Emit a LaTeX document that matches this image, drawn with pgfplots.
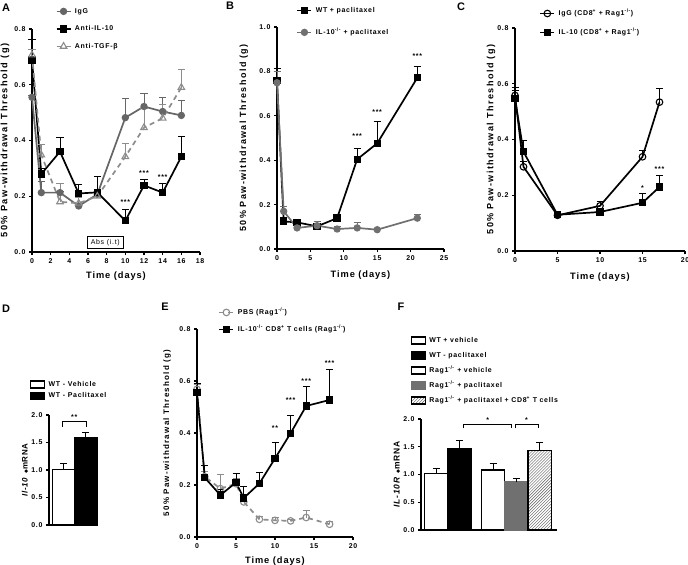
\documentclass[border=0pt]{standalone}
\usepackage{pgfplots}
\pgfplotsset{compat=1.18}
\usepackage{pgfplotstable}
\usepackage{fontspec}
\setmainfont{Liberation Sans}[LetterSpace=10]
\newfontfamily\ylabfont{Liberation Sans}[LetterSpace=16]
\newfontfamily\symfont{DejaVu Sans}
\usetikzlibrary{patterns}

\definecolor{gA}{HTML}{666666}
\definecolor{gB}{HTML}{8C8C8C}
\definecolor{gF}{HTML}{707070}

\newcommand{\tkf}{\bfseries\fontsize{7}{8}\selectfont}
\newcommand{\lgf}{\bfseries\fontsize{7}{8}\selectfont}
\newcommand{\lbf}{\bfseries\fontsize{9.3}{10}\selectfont}

\tikzset{st/.style={font=\tkf, anchor=center}}

\pgfplotsset{
 gp/.style={
  scale only axis, anchor=south west, clip=false,
  axis lines=left, axis line style={-, line width=1.2bp},
  tick align=outside, major tick length=3bp, tick style={line width=1.1bp, black},
  enlargelimits=false,
  ticklabel style={font=\tkf},
  label style={font=\lbf},
  /pgf/number format/assume math mode=true,
  yticklabel style={/pgf/number format/.cd, fixed, fixed zerofill, precision=1},
  legend style={draw=none, fill=none, font=\lgf, anchor=north west, inner sep=0pt,
     nodes={inner ysep=1bp, inner xsep=3.5bp, text height=5bp, text depth=1.5bp}},
  legend cell align=left,
  legend image code/.code={\draw[mark repeat=2,mark phase=2,##1] plot coordinates {(0bp,0bp) (7bp,0bp) (14bp,0bp)};},
  xlabel style={at={(axis description cs:0.5,-0.11)}, anchor=center},
 },
 barleg/.style={legend image code/.code={\draw[##1] (0bp,-3.5bp) rectangle (14bp,3.5bp);}},
 eb/.style={/pgfplots/error bars/y dir=plus, /pgfplots/error bars/y explicit, /pgfplots/error bars/error bar style={line width=1bp, solid}, /pgfplots/error bars/error mark options={rotate=90, mark size=3.5bp, line width=1bp, solid}},
 blk/.style={black, line width=1.7bp, mark=square*, mark size=2.8bp, mark options={solid, fill=black}},
 gcirc/.style={color=gA, line width=1.7bp, mark=*, mark size=2.8bp, mark options={solid, fill=gA}},
 tri/.style={color=gB, line width=1.7bp, dash pattern=on 5bp off 4bp, mark=triangle, mark size=3.8bp, mark options={solid, fill=white, line width=1.1bp}},
 ocirc/.style={black, line width=1.7bp, mark=o, mark size=3.3bp, mark options={solid, fill=white, line width=1.1bp}},
 pbs/.style={color=gB, line width=1.7bp, dash pattern=on 5bp off 4bp, mark=o, mark size=3.3bp, mark options={solid, fill=white, line width=1.1bp}},
}

% ---- data ----
\pgfplotstableread{
x y e
0 0.555 0.005
1 0.213 0.04
3 0.213 0.005
5 0.165 0.005
7 0.207 0.005
10 0.482 0.07
12 0.522 0.045
14 0.504 0.05
16 0.49 0.055
}\Aigg
\pgfplotstableread{
x y e
0 0.689 0.072
1 0.280 0.02
3 0.360 0.05
5 0.210 0.033
7 0.214 0.056
10 0.112 0.041
12 0.239 0.02
14 0.213 0.033
16 0.342 0.072
}\Ail
\pgfplotstableread{
x y e
0 0.707 0.02
1 0.348 0.036
3 0.180 0.066
5 0.175 0.02
7 0.200 0.02
10 0.342 0.048
12 0.446 0.07
14 0.480 0.05
16 0.590 0.065
}\Atgf
\pgfplotstableread{
x y e
0 0.760 0.053
1 0.124 0.02
3 0.120 0.005
6 0.102 0.01
9 0.139 0.015
12 0.404 0.05
15 0.476 0.097
21 0.771 0.049
}\Bwt
\pgfplotstableread{
x y e
0 0.749 0.05
1 0.170 0.02
3 0.095 0.005
6 0.105 0.019
9 0.090 0.01
12 0.095 0.025
15 0.087 0.005
21 0.139 0.018
}\Bil
\pgfplotstableread{
x y e
0 0.558 0.03
1 0.302 0.02
5 0.128 0.01
10 0.162 0.014
15 0.338 0.024
17 0.534 0.05
}\Cigg
\pgfplotstableread{
x y e
0 0.546 0.03
1 0.356 0.042
5 0.130 0.01
10 0.140 0.01
15 0.173 0.033
17 0.230 0.042
}\Cil
\pgfplotstableread{
x y e
0 0.568 0.02
1 0.232 0.02
3 0.186 0.054
5 0.205 0.02
6 0.135 0.01
8 0.068 0.01
10 0.064 0.01
12 0.062 0.005
14 0.075 0.028
17 0.049 0.01
}\Epbs
\pgfplotstableread{
x y e
0 0.556 0.036
1 0.228 0.046
3 0.161 0.02
5 0.210 0.034
6 0.150 0.043
8 0.206 0.042
10 0.302 0.062
12 0.399 0.07
14 0.504 0.075
17 0.527 0.119
}\Ecd

\begin{document}
\begin{tikzpicture}
\useasboundingbox (0bp,0bp) rectangle (688bp,-565bp);

% ===== A =====
\begin{axis}[gp, at={(32bp,-252bp)}, width=168bp, height=223bp,
  xmin=0, xmax=18, ymin=0, ymax=0.8, xtick={0,2,...,18}, ytick={0,0.2,...,0.8},
  xlabel={Time (days)}, ylabel={50\% Paw-withdrawal Threshold (g)},
  ylabel style={at={(axis description cs:-0.16,0.5)}, anchor=center, font=\ylabfont\bfseries\fontsize{9.3}{10}\selectfont},
  legend style={at={(0.14,1.099)}, row sep=9bp}]
\addplot[gcirc, eb] table[x=x, y=y, y error=e]{\Aigg};
\addlegendentry{IgG}
\addplot[blk, eb] table[x=x, y=y, y error=e]{\Ail};
\addlegendentry{Anti-IL-10}
\addplot[tri, eb] table[x=x, y=y, y error=e]{\Atgf};
\addlegendentry{Anti-TGF-β}
\node[st] at (axis cs:10,0.18) {***};
\node[st] at (axis cs:12,0.282) {***};
\node[st] at (axis cs:14,0.27) {***};
\draw[line width=0.6bp] (axis cs:5.9,0.013) rectangle (axis cs:9.8,0.057);
\node[font=\fontsize{7}{8}\selectfont] at (axis cs:7.85,0.035) {Abs (i.t)};
\end{axis}

% ===== B =====
\begin{axis}[gp, at={(277bp,-249bp)}, width=167bp, height=222bp,
  xmin=0, xmax=25, ymin=0, ymax=1.0, xtick={0,5,...,25}, ytick={0,0.2,...,1.0},
  xlabel={Time (days)}, ylabel={50\% Paw-withdrawal Threshold (g)},
  xlabel style={at={(axis description cs:0.5,-0.117)}},
  ylabel style={at={(axis description cs:-0.198,0.5)}, anchor=center, font=\ylabfont\bfseries\fontsize{9}{10}\selectfont},
  legend style={at={(0.116,1.095)}, row sep=13.5bp}]
\addplot[blk, eb] table[x=x, y=y, y error=e]{\Bwt};
\addlegendentry{WT + paclitaxel}
\addplot[gcirc, color=gB!80!black, mark options={solid, fill=gB!80!black}, eb] table[x=x, y=y, y error=e]{\Bil};
\addlegendentry{IL-10\textsuperscript{-/-} + paclitaxel}
\node[st] at (axis cs:12,0.509) {***};
\node[st] at (axis cs:15,0.617) {***};
\node[st] at (axis cs:21,0.867) {***};
\end{axis}

% ===== C =====
\begin{axis}[gp, at={(515bp,-251bp)}, width=170bp, height=223bp,
  xmin=0, xmax=20, ymin=0, ymax=0.8, xtick={0,5,...,20}, ytick={0,0.2,...,0.8},
  xlabel={Time (days)}, ylabel={50\% Paw-withdrawal Threshold (g)},
  xlabel style={at={(axis description cs:0.5,-0.117)}},
  ylabel style={at={(axis description cs:-0.141,0.5)}, anchor=center, font=\ylabfont\bfseries\fontsize{9.1}{10}\selectfont},
  legend style={at={(0.143,1.085)}, row sep=10.5bp}]
\addplot[ocirc, eb] table[x=x, y=y, y error=e]{\Cigg};
\addlegendentry{IgG (CD8\textsuperscript{+} + Rag1\textsuperscript{-/-})}
\addplot[blk, eb] table[x=x, y=y, y error=e]{\Cil};
\addlegendentry{IL-10 (CD8\textsuperscript{+} + Rag1\textsuperscript{-/-})}
\node[st] at (axis cs:15,0.224) {*};
\node[st] at (axis cs:17,0.293) {***};
\end{axis}

% ===== D =====
\begin{axis}[gp, at={(49bp,-525bp)}, width=48bp, height=110bp,
  xmin=-0.67, xmax=1.5, ymin=0, ymax=2.0, xtick=\empty, ytick={0,0.5,...,2.0},
  ybar, bar width=1, bar shift=0pt,
  ylabel={\textit{Il-10} {\symfont\fontsize{5}{5}\selectfont ◆}mRNA},
  ylabel style={at={(axis description cs:-0.5,0.5)}, anchor=center, font=\bfseries\fontsize{8}{9}\selectfont},
  legend style={at={(-0.4,1.318)}, row sep=3bp}]
\addplot[barleg, draw=black, line width=1.2bp, fill=white, eb] coordinates {(0,1.01) +- (0,0.11)};
\addlegendentry{WT - Vehicle}
\addplot[barleg, draw=black, line width=1.2bp, fill=black, eb] coordinates {(1,1.59) +- (0,0.09)};
\addlegendentry{WT - Paclitaxel}
\draw[line width=0.8bp] (axis cs:-0.05,1.79) -- (axis cs:-0.05,1.89) -- (axis cs:1.0,1.89) -- (axis cs:1.0,1.79);
\node[font=\tkf, anchor=south] at (axis cs:0.47,1.86) {**};
\end{axis}

% ===== E =====
\begin{axis}[gp, at={(197bp,-537bp)}, width=156bp, height=208bp,
  xmin=0, xmax=20, ymin=0, ymax=0.8, xtick={0,5,...,20}, ytick={0,0.2,...,0.8},
  xlabel={Time (days)}, ylabel={50\% Paw-withdrawal Threshold (g)},
  xlabel style={at={(axis description cs:0.5,-0.115)}},
  ylabel style={at={(axis description cs:-0.192,0.5)}, anchor=center, font=\ylabfont\bfseries\fontsize{8}{9}\selectfont},
  legend style={at={(0.137,1.101)}, row sep=8.5bp}]
\addplot[pbs, eb] table[x=x, y=y, y error=e]{\Epbs};
\addlegendentry{PBS (Rag1\textsuperscript{-/-})}
\addplot[blk, eb] table[x=x, y=y, y error=e]{\Ecd};
\addlegendentry{IL-10\textsuperscript{-/-} CD8\textsuperscript{+} T cells (Rag1\textsuperscript{-/-})}
\node[st] at (axis cs:10,0.42) {**};
\node[st] at (axis cs:12,0.527) {***};
\node[st] at (axis cs:14,0.6) {***};
\node[st] at (axis cs:17,0.67) {***};
\end{axis}

% ===== F =====
\begin{axis}[gp, at={(421bp,-530bp)}, width=136bp, height=111bp,
  xmin=-0.66, xmax=5.2, ymin=0, ymax=2.0, xtick=\empty, ytick={0,0.5,...,2.0},
  ybar, bar width=1, bar shift=0pt,
  ylabel={\textit{IL-10R} {\symfont\fontsize{5}{5}\selectfont ◆}mRNA},
  ylabel style={at={(axis description cs:-0.176,0.5)}, anchor=center, font=\bfseries\fontsize{8.5}{9}\selectfont},
  legend style={at={(-0.078,1.748)}, row sep=6.5bp}]
\addplot[barleg, draw=black, line width=1.2bp, fill=white, eb] coordinates {(0,1.02) +- (0,0.09)};
\addlegendentry{WT + vehicle}
\addplot[barleg, draw=black, line width=1.2bp, fill=black, eb] coordinates {(1,1.46) +- (0,0.16)};
\addlegendentry{WT - paclitaxel}
\addplot[barleg, draw=black, line width=1.2bp, fill=white, eb] coordinates {(2.45,1.08) +- (0,0.11)};
\addlegendentry{Rag1\textsuperscript{-/-} + vehicle}
\addplot[barleg, draw=gF, line width=1.2bp, fill=gF, eb, /pgfplots/error bars/error bar style={black, line width=1bp}, /pgfplots/error bars/error mark options={black, rotate=90, mark size=3.5bp, line width=1bp}] coordinates {(3.45,0.87) +- (0,0.06)};
\addlegendentry{Rag1\textsuperscript{-/-} + paclitaxel}
\addplot[barleg, draw=black, line width=1.2bp, pattern=north east lines, pattern color=gray!70!black, eb] coordinates {(4.45,1.43) +- (0,0.14)};
\addlegendentry{Rag1\textsuperscript{-/-} + paclitaxel + CD8\textsuperscript{+} T cells}
\draw[line width=0.8bp] (axis cs:1.17,1.83) -- (axis cs:1.17,1.91) -- (axis cs:3.25,1.91) -- (axis cs:3.25,1.83);
\draw[line width=0.8bp] (axis cs:3.39,1.83) -- (axis cs:3.39,1.91) -- (axis cs:4.38,1.91) -- (axis cs:4.38,1.83);
\node[font=\tkf, anchor=south] at (axis cs:2.21,1.88) {*};
\node[font=\tkf, anchor=south] at (axis cs:3.88,1.88) {*};
\end{axis}

% panel letters
\node[font=\bfseries\fontsize{11}{12}\selectfont] at (6bp,-8bp) {A};
\node[font=\bfseries\fontsize{11}{12}\selectfont] at (230bp,-6bp) {B};
\node[font=\bfseries\fontsize{11}{12}\selectfont] at (461bp,-7bp) {C};
\node[font=\bfseries\fontsize{11}{12}\selectfont] at (6bp,-309bp) {D};
\node[font=\bfseries\fontsize{11}{12}\selectfont] at (165bp,-307bp) {E};
\node[font=\bfseries\fontsize{11}{12}\selectfont] at (401bp,-307bp) {F};
\end{tikzpicture}
\end{document}
